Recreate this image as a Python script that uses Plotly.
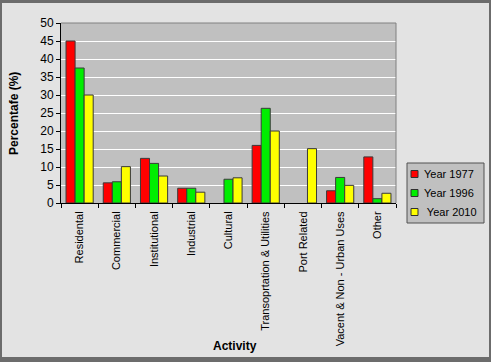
import plotly.graph_objects as go

categories = ["Residental", "Commercial", "Institutional", "Industrial", "Cultural",
              "Transoprtation & Utilities", "Port Related", "Vacent & Non - Urban Uses", "Other"]
year_1977 = [45, 5.6, 12.4, 4.1, None, 16, None, 3.4, 12.8]
year_1996 = [37.5, 5.9, 11, 4.1, 6.6, 26.3, None, 7.1, 1.2]
year_2010 = [30, 10.1, 7.5, 3, 7, 20, 15.1, 4.9, 2.7]
series_names = ["Year 1977", "Year 1996", " Year 2010"]
colors = ["#ff0000", "#00ee00", "#ffff00"]

W, H = 491, 362
L, R, T, B = 61, 396, 23, 203

fig = go.Figure()
for name, vals, c in zip(series_names, [year_1977, year_1996, year_2010], colors):
    fig.add_trace(go.Bar(x=categories, y=vals, name=name, showlegend=False,
                         marker=dict(color=c, line=dict(color="#3a3a3a", width=1))))

def px_x(p):
    return (p - L) / (R - L)

def px_y(p):
    return (B - p) / (B - T)

font = "Liberation Sans, Arial, sans-serif"
border = "#6c6c6c"
shapes = [
    dict(type="line", xref="paper", yref="paper", x0=0, x1=1, y0=1, y1=1,
         line=dict(color="#808080", width=1)),
    dict(type="line", xref="paper", yref="paper", x0=1, x1=1, y0=0, y1=1,
         line=dict(color="#808080", width=1)),
]
for (x0, y0, x1, y1) in [(0, 0, W, 3), (0, 0, 2, H), (0, H - 5, W, H), (W - 2, 0, W, H)]:
    shapes.append(dict(type="rect", xref="paper", yref="paper",
                       x0=px_x(x0), x1=px_x(x1), y0=px_y(y0), y1=px_y(y1),
                       fillcolor=border, line=dict(width=0), layer="above"))

# manual legend
shapes.append(dict(type="rect", xref="paper", yref="paper",
                   x0=px_x(407), x1=px_x(484), y0=px_y(163), y1=px_y(223),
                   fillcolor="#c0c0c0", line=dict(color="#505050", width=1)))
annotations = []
row_y = [174, 193, 212]
for name, c, ry in zip(series_names, colors, row_y):
    shapes.append(dict(type="rect", xref="paper", yref="paper",
                       x0=px_x(411), x1=px_x(418), y0=px_y(ry - 3.5), y1=px_y(ry + 3.5),
                       fillcolor=c, line=dict(color="#303030", width=1)))
    annotations.append(dict(text=name, xref="paper", yref="paper", x=px_x(422), y=px_y(ry),
                            xanchor="left", yanchor="middle", showarrow=False,
                            font=dict(family=font, size=11, color="black")))

annotations.append(dict(text="<b>Activity</b>", xref="paper", yref="paper",
                        x=px_x(235), y=px_y(346), xanchor="center", yanchor="middle",
                        showarrow=False, font=dict(family=font, size=12, color="black")))
annotations.append(dict(text="<b>Percentafe (%)</b>", xref="paper", yref="paper",
                        x=px_x(14), y=px_y(114), xanchor="center", yanchor="middle",
                        textangle=-90, showarrow=False,
                        font=dict(family=font, size=12, color="black")))

fig.update_layout(
    width=W, height=H,
    margin=dict(l=L, r=W - R, t=T, b=H - B),
    paper_bgcolor="#e3e3e3",
    plot_bgcolor="#c0c0c0",
    barmode="group",
    bargap=0.27,
    bargroupgap=0,
    font=dict(family=font, size=11, color="black"),
    showlegend=False,
    shapes=shapes,
    annotations=annotations,
    xaxis=dict(tickangle=-90, tickson="boundaries", ticks="outside", ticklen=4,
               tickcolor="black", showline=True, linecolor="black", linewidth=1,
               tickfont=dict(size=11), automargin=False, ticklabelstandoff=3),
    yaxis=dict(range=[0, 50], dtick=5, ticks="outside", ticklen=4, tickcolor="black",
               showline=True, linecolor="black", linewidth=1,
               gridcolor="white", gridwidth=1, zeroline=False,
               tickfont=dict(size=12), automargin=False),
)

fig.write_html("out.html", config={"displayModeBar": False},
               post_script="document.body.style.margin='0';document.body.style.overflow='hidden';")
